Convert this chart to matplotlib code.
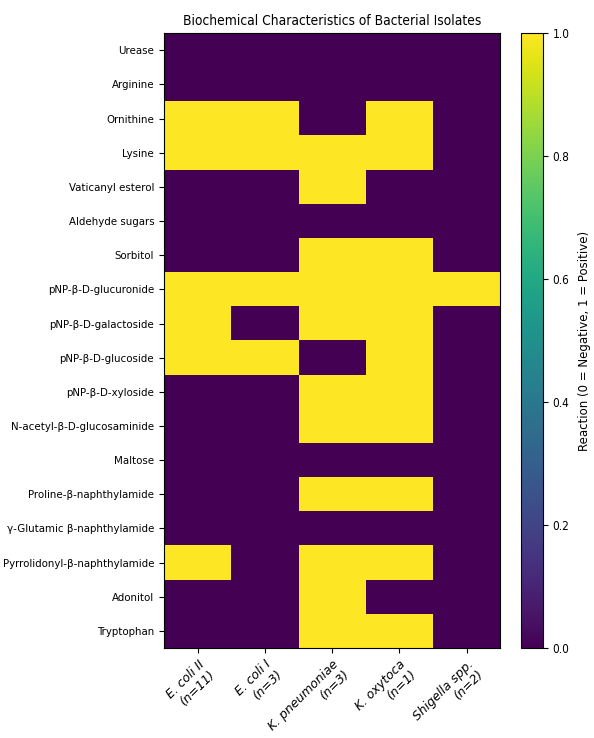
import matplotlib
matplotlib.use("Agg")
import matplotlib.pyplot as plt
import numpy as np

tests = ["Urease", "Arginine", "Ornithine", "Lysine", "Vaticanyl esterol",
         "Aldehyde sugars", "Sorbitol", "pNP-β-D-glucuronide",
         "pNP-β-D-galactoside", "pNP-β-D-glucoside", "pNP-β-D-xyloside",
         "N-acetyl-β-D-glucosaminide", "Maltose", "Proline-β-naphthylamide",
         "γ-Glutamic β-naphthylamide", "Pyrrolidonyl-β-naphthylamide",
         "Adonitol", "Tryptophan"]
isolates = ["E. coli II\n(n=11)", "E. coli I\n(n=3)", "K. pneumoniae\n(n=3)",
            "K. oxytoca\n(n=1)", "Shigella spp.\n(n=2)"]
ecoli_ii = [0, 0, 1, 1, 0, 0, 0, 1, 1, 1, 0, 0, 0, 0, 0, 1, 0, 0]
ecoli_i = [0, 0, 1, 1, 0, 0, 0, 1, 0, 1, 0, 0, 0, 0, 0, 0, 0, 0]
k_pneu = [0, 0, 0, 1, 1, 0, 1, 1, 1, 0, 1, 1, 0, 1, 0, 1, 1, 1]
k_oxy = [0, 0, 1, 1, 0, 0, 1, 1, 1, 1, 1, 1, 0, 1, 0, 1, 0, 1]
shigella = [0, 0, 0, 0, 0, 0, 0, 1, 0, 0, 0, 0, 0, 0, 0, 0, 0, 0]

data = np.array([ecoli_ii, ecoli_i, k_pneu, k_oxy, shigella]).T

plt.rcParams["font.family"] = ["DejaVu Sans"]
plt.rcParams["font.stretch"] = "condensed"

fig = plt.figure(figsize=(5.94, 7.38), dpi=100)
ax = fig.add_axes([0.276, 0.122, 0.566, 0.833])
cax = fig.add_axes([0.877, 0.122, 0.037, 0.833])
im = ax.imshow(data, cmap="viridis", aspect="auto", vmin=0, vmax=1)
ax.set_xticks(range(len(isolates)))
ax.set_xticklabels(isolates, rotation=45, ha="right", rotation_mode="anchor",
                   fontstyle="italic", fontsize=8.9, fontstretch="normal")
ax.set_yticks(range(len(tests)))
ax.set_yticklabels(tests, fontsize=8.2)
ax.set_title("Biochemical Characteristics of Bacterial Isolates", fontsize=9.9)
cb = fig.colorbar(im, cax=cax)
cb.set_label("Reaction (0 = Negative, 1 = Positive)", fontsize=8.5,
             fontstretch="normal", labelpad=6)
cb.ax.tick_params(labelsize=8.5)
fig.savefig("out.png", dpi=100)
